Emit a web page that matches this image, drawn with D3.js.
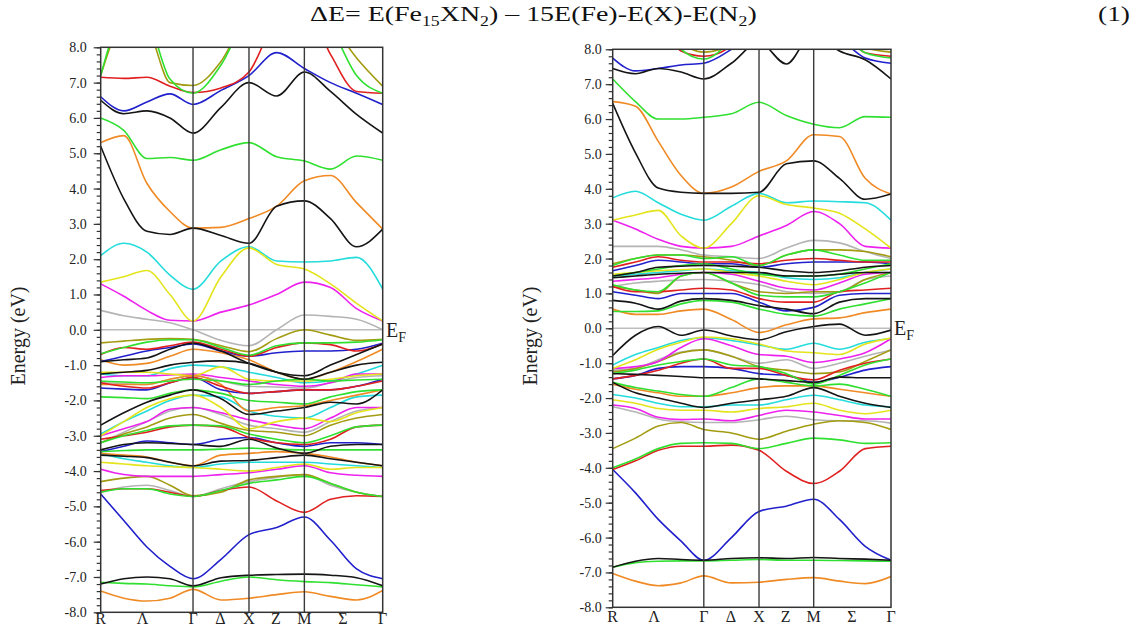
<!DOCTYPE html>
<html>
<head>
<meta charset="utf-8">
<script src="https://cdnjs.cloudflare.com/ajax/libs/d3/7.8.5/d3.min.js"></script>
<style>
body { margin: 0; background: #fff; }
svg text { font-family: "Liberation Serif", "Times New Roman", serif; }
</style>
</head>
<body>
<svg width="1143" height="628"></svg>
<script>
// k path R - Gamma - X - M - Gamma, band energies sampled on kGrid
var kGrid = [0, 0.4125, 0.825, 1.2375, 1.65, 2.15, 2.65, 3.145, 3.64, 4.107, 4.573, 5.04];
var kSym = [1.65, 2.65, 3.64];
var kLabelPos = [0, 0.75, 1.65, 2.14, 2.65, 3.13, 3.64, 4.33, 5.04];
var kLabels = ["R", "\u039B", "\u0393", "\u0394", "X", "Z", "M", "\u03A3", "\u0393"];
var energyTicks = d3.range(-8, 9, 1);
var minorTicks = d3.range(-40, 41).map(function(i){ return i / 5; });

// ---- left panel bands (by colour)
var leftBlack = [
  [5.2, 3.71, 2.79, 2.7, 2.88, 2.67, 2.45, 3.5, 3.65, 3.15, 2.35, 2.85],
  [6.5, 6.12, 6.2, 6.0, 5.57, 6.3, 7.0, 6.62, 7.3, 6.75, 6.1, 5.57],
  [-0.9, -0.85, -0.8, -0.55, -0.38, -0.6, -0.95, -1.2, -1.3, -1.0, -0.7, -0.4],
  [-1.25, -1.2, -1.15, -1.0, -0.92, -0.88, -0.95, -1.2, -1.4, -1.2, -1.0, -0.92],
  [-2.7, -2.35, -2.05, -1.85, -1.7, -1.95, -2.4, -2.3, -2.2, -2.05, -2.1, -1.7],
  [-3.4, -3.25, -3.2, -3.22, -3.25, -3.3, -3.1, -3.35, -3.5, -3.3, -3.25, -3.25],
  [-3.55, -3.58, -3.62, -3.75, -3.85, -3.72, -3.7, -3.62, -3.55, -3.65, -3.75, -3.85],
  [-7.2, -7.05, -7.0, -7.05, -7.25, -7.02, -6.95, -6.93, -6.92, -6.95, -7.02, -7.25]
];
var leftRed = [
  [7.15, 7.12, 7.15, 6.9, 6.72, 6.85, 7.3, 8.8, 9.2, 7.8, 6.75, 6.7],
  [-0.7, -0.5, -0.55, -0.45, -0.35, -0.55, -0.75, -0.5, -0.37, -0.42, -0.6, -0.4],
  [-1.5, -1.6, -1.65, -1.5, -1.35, -1.6, -1.8, -1.75, -1.7, -1.7, -1.6, -1.45],
  [-3.1, -3.0, -2.9, -2.75, -2.7, -2.75, -3.05, -3.2, -3.25, -3.1, -2.75, -2.7],
  [-4.55, -4.5, -4.5, -4.6, -4.72, -4.55, -4.45, -4.85, -5.17, -4.8, -4.7, -4.72]
];
var leftGreen = [
  [7.2, 8.8, 8.7, 7.1, 6.7, 7.5, 9.0, 9.5, 9.5, 8.6, 7.2, 6.7],
  [6.0, 5.65, 4.85, 4.88, 4.8, 5.1, 5.3, 4.9, 4.78, 4.55, 4.92, 4.8],
  [-0.68, -0.5, -0.35, -0.28, -0.28, -0.5, -0.72, -0.45, -0.37, -0.37, -0.35, -0.28],
  [-1.45, -1.48, -1.5, -1.45, -1.4, -1.45, -1.55, -1.45, -1.4, -1.45, -1.42, -1.4],
  [-1.9, -1.92, -1.95, -1.8, -1.7, -1.8, -2.0, -2.05, -2.1, -1.9, -1.75, -1.7],
  [-3.2, -3.0, -2.85, -2.72, -2.7, -2.72, -2.95, -3.1, -3.2, -3.0, -2.75, -2.7],
  [-3.45, -3.42, -3.4, -3.4, -3.4, -3.38, -3.35, -3.38, -3.4, -3.4, -3.4, -3.4],
  [-4.6, -4.5, -4.5, -4.65, -4.72, -4.55, -4.35, -4.25, -4.15, -4.35, -4.6, -4.72],
  [-7.15, -7.18, -7.2, -7.25, -7.28, -7.12, -7.0, -7.08, -7.13, -7.16, -7.22, -7.28]
];
var leftBlue = [
  [6.6, 6.2, 6.45, 6.68, 6.38, 6.78, 7.2, 7.85, 7.4, 7.0, 6.7, 6.38],
  [-0.9, -0.75, -0.6, -0.5, -0.4, -0.6, -0.75, -0.65, -0.6, -0.6, -0.55, -0.38],
  [-1.65, -1.68, -1.7, -1.5, -1.35, -1.7, -1.8, -1.75, -1.7, -1.7, -1.6, -1.4],
  [-3.45, -3.3, -3.15, -3.2, -3.25, -3.1, -3.05, -3.2, -3.3, -3.2, -3.2, -3.25],
  [-4.65, -5.4, -6.15, -6.7, -7.05, -6.5, -5.8, -5.6, -5.3, -5.96, -6.77, -7.05]
];
var leftYellow = [
  [1.35, 1.5, 1.68, 1.0, 0.25, 1.5, 2.32, 1.85, 1.72, 1.3, 0.75, 0.25],
  [-1.2, -1.2, -1.2, -1.25, -1.3, -1.05, -1.4, -1.45, -1.45, -1.4, -1.3, -1.25],
  [-3.0, -2.6, -2.2, -1.95, -1.85, -2.2, -2.8, -2.6, -2.5, -2.6, -2.35, -2.2],
  [-3.75, -3.8, -3.85, -3.88, -3.9, -3.95, -4.0, -3.9, -3.8, -3.95, -3.9, -3.9]
];
var leftOrange = [
  [5.3, 5.5, 4.15, 3.35, 2.88, 2.9, 3.15, 3.5, 4.22, 4.37, 3.6, 2.85],
  [-0.85, -1.0, -0.95, -0.75, -0.55, -0.65, -0.85, -1.2, -1.4, -1.2, -0.9, -0.55],
  [-1.55, -1.55, -1.55, -1.4, -1.3, -1.55, -2.3, -2.2, -2.15, -2.0, -1.85, -1.7],
  [-3.5, -3.55, -3.6, -3.75, -3.85, -3.55, -3.5, -3.45, -3.5, -3.6, -3.75, -3.85],
  [-7.4, -7.6, -7.68, -7.6, -7.35, -7.65, -7.6, -7.5, -7.42, -7.55, -7.65, -7.38]
];
var leftMagenta = [
  [1.3, 0.95, 0.55, 0.27, 0.25, 0.5, 0.7, 1.0, 1.35, 1.2, 0.6, 0.25],
  [-1.35, -1.3, -1.3, -1.28, -1.25, -1.35, -1.45, -1.55, -1.6, -1.5, -1.25, -1.25],
  [-3.0, -2.8, -2.6, -2.25, -2.2, -2.35, -2.55, -2.7, -2.8, -2.5, -2.2, -2.2],
  [-3.95, -4.1, -4.15, -4.15, -4.15, -4.1, -4.05, -3.95, -3.85, -4.05, -4.12, -4.15]
];
var leftCyan = [
  [2.1, 2.45, 2.2, 1.55, 1.15, 1.95, 2.35, 1.95, 1.92, 1.95, 2.05, 1.15],
  [-1.25, -1.3, -1.3, -1.1, -1.0, -1.05, -1.2, -1.35, -1.5, -1.45, -1.25, -1.0],
  [-2.95, -2.6, -2.3, -2.0, -1.85, -1.9, -2.3, -2.45, -2.5, -2.2, -1.9, -1.85],
  [-3.5, -3.65, -3.75, -3.85, -3.9, -3.8, -3.75, -3.75, -3.75, -3.8, -3.85, -3.9]
];
var leftOlive = [
  [7.2, 8.6, 8.5, 7.0, 6.92, 7.6, 9.0, 9.5, 9.5, 8.7, 7.7, 6.9],
  [-0.37, -0.32, -0.27, -0.25, -0.27, -0.45, -0.62, -0.25, 0.0, -0.15, -0.3, -0.27],
  [-3.2, -2.95, -2.75, -2.5, -2.4, -2.65, -2.85, -2.9, -3.0, -2.7, -2.5, -2.4],
  [-4.3, -4.2, -4.15, -4.4, -4.7, -4.6, -4.25, -4.15, -4.1, -4.35, -4.6, -4.72]
];
var leftGray = [
  [0.55, 0.4, 0.3, 0.2, 0.0, -0.3, -0.45, 0.0, 0.42, 0.38, 0.3, 0.0],
  [-1.5, -1.52, -1.55, -1.4, -1.3, -1.45, -1.6, -1.62, -1.65, -1.5, -1.35, -1.3],
  [-3.2, -2.9, -2.6, -2.3, -2.2, -2.4, -2.7, -2.8, -2.9, -2.6, -2.3, -2.2],
  [-4.6, -4.45, -4.4, -4.55, -4.72, -4.5, -4.3, -4.18, -4.1, -4.4, -4.6, -4.72]
];

// ---- right panel bands (by colour)
var rightBlack = [
  [6.45, 5.03, 4.02, 3.9, 3.87, 3.87, 3.9, 4.72, 4.8, 4.3, 3.7, 3.85],
  [7.45, 7.3, 7.45, 7.35, 7.15, 7.6, 8.2, 7.58, 8.5, 7.95, 7.7, 7.15],
  [1.5, 1.6, 1.75, 1.78, 1.8, 1.78, 1.75, 1.65, 1.6, 1.65, 1.75, 1.8],
  [1.45, 1.5, 1.55, 1.58, 1.6, 1.6, 1.6, 1.5, 1.5, 1.55, 1.6, 1.6],
  [0.8, 0.72, 0.55, 0.78, 0.85, 0.8, 0.65, 0.55, 0.42, 0.75, 0.85, 0.85],
  [-0.78, -0.2, 0.05, -0.2, -0.05, -0.22, -0.33, -0.1, 0.05, 0.12, -0.2, -0.05],
  [-1.3, -1.32, -1.35, -1.38, -1.42, -1.42, -1.45, -1.5, -1.55, -1.4, -1.42, -1.42],
  [-1.55, -1.85, -2.0, -2.15, -2.27, -2.15, -2.05, -1.95, -1.7, -1.95, -2.15, -2.27],
  [-6.85, -6.68, -6.6, -6.63, -6.65, -6.6, -6.58, -6.6, -6.57, -6.6, -6.62, -6.65]
];
var rightRed = [
  [9.5, 9.5, 9.0, 7.95, 7.8, 8.1, 9.5, 9.5, 9.5, 8.8, 7.9, 7.8],
  [1.75, 1.9, 2.05, 1.95, 1.9, 1.9, 1.85, 1.95, 2.0, 1.95, 1.9, 1.9],
  [1.2, 1.05, 1.05, 1.1, 1.15, 1.1, 0.85, 0.75, 0.75, 1.05, 1.1, 1.15],
  [-1.45, -1.35, -1.2, -1.0, -0.88, -1.15, -1.15, -1.35, -1.48, -1.2, -1.0, -0.88],
  [-4.05, -3.8, -3.5, -3.38, -3.38, -3.35, -3.5, -4.1, -4.45, -4.1, -3.45, -3.38]
];
var rightGreen = [
  [9.5, 9.5, 9.0, 8.0, 7.72, 8.3, 9.5, 9.5, 9.5, 8.6, 7.9, 7.75],
  [7.15, 6.5, 6.0, 6.0, 6.05, 6.15, 6.48, 6.1, 5.85, 5.75, 6.07, 6.05],
  [1.8, 2.0, 2.1, 2.1, 2.0, 2.05, 1.8, 2.1, 2.25, 2.1, 1.95, 1.95],
  [1.5, 1.6, 1.7, 1.8, 1.85, 1.7, 1.55, 1.5, 1.5, 1.55, 1.7, 1.85],
  [1.25, 1.1, 1.05, 1.5, 1.6, 1.3, 0.95, 0.9, 0.9, 1.05, 1.3, 1.6],
  [0.48, 0.48, 0.5, 0.7, 0.8, 0.75, 0.55, 0.4, 0.35, 0.55, 0.7, 0.85],
  [-1.3, -1.2, -1.05, -0.95, -0.88, -1.05, -1.1, -1.3, -1.6, -1.35, -1.05, -0.88],
  [-1.55, -1.7, -1.8, -1.9, -1.95, -1.7, -1.45, -1.55, -1.65, -1.6, -1.75, -1.95],
  [-4.0, -3.75, -3.45, -3.3, -3.28, -3.3, -3.45, -3.3, -3.15, -3.2, -3.3, -3.28],
  [-6.85, -6.72, -6.68, -6.67, -6.67, -6.65, -6.63, -6.65, -6.65, -6.66, -6.67, -6.68]
];
var rightBlue = [
  [7.75, 7.38, 7.45, 7.55, 7.6, 8.0, 8.6, 9.0, 8.6, 8.3, 7.75, 7.6],
  [1.65, 1.8, 1.95, 1.9, 1.85, 1.85, 1.75, 1.85, 1.9, 1.9, 1.9, 1.85],
  [1.05, 0.95, 0.85, 1.0, 1.0, 1.0, 0.75, 0.5, 0.6, 0.95, 1.0, 1.0],
  [-1.45, -1.35, -1.15, -1.1, -1.1, -1.15, -1.3, -1.35, -1.55, -1.4, -1.2, -1.1],
  [-4.05, -4.72, -5.48, -6.1, -6.65, -6.0, -5.25, -5.1, -4.9, -5.48, -6.25, -6.65]
];
var rightYellow = [
  [3.1, 3.25, 3.38, 2.65, 2.3, 3.0, 3.8, 3.55, 3.45, 3.3, 2.85, 2.3],
  [1.55, 1.6, 1.65, 1.68, 1.7, 1.6, 1.5, 1.35, 1.25, 1.4, 1.6, 1.7],
  [-1.15, -0.9, -0.6, -0.4, -0.25, -0.3, -0.45, -0.65, -0.7, -0.75, -0.45, -0.28],
  [-2.05, -2.15, -2.3, -2.35, -2.35, -2.4, -2.3, -2.25, -2.15, -2.35, -2.45, -2.35]
];
var rightOrange = [
  [6.5, 6.37, 5.36, 4.38, 3.87, 4.05, 4.5, 4.8, 5.55, 5.5, 4.3, 3.85],
  [0.55, 0.4, 0.4, 0.5, 0.55, 0.25, -0.12, 0.1, 0.27, 0.3, 0.45, 0.55],
  [-1.6, -1.75, -1.85, -1.95, -1.95, -1.85, -1.7, -1.65, -1.65, -1.75, -1.85, -1.95],
  [-7.03, -7.25, -7.38, -7.3, -7.1, -7.3, -7.28, -7.2, -7.15, -7.25, -7.32, -7.12]
];
var rightMagenta = [
  [3.1, 2.85, 2.55, 2.35, 2.3, 2.35, 2.65, 2.95, 3.35, 3.0, 2.35, 2.3],
  [1.35, 1.4, 1.45, 1.55, 1.6, 1.55, 1.35, 1.15, 1.1, 1.3, 1.55, 1.6],
  [-1.15, -1.1, -0.95, -0.55, -0.3, -0.5, -0.75, -0.8, -0.98, -0.88, -0.7, -0.3],
  [-2.2, -2.3, -2.55, -2.62, -2.6, -2.65, -2.5, -2.35, -2.4, -2.5, -2.6, -2.6]
];
var rightCyan = [
  [3.74, 3.93, 3.6, 3.27, 3.1, 3.5, 3.87, 3.6, 3.65, 3.63, 3.6, 3.1],
  [1.5, 1.55, 1.6, 1.65, 1.7, 1.65, 1.6, 1.45, 1.4, 1.45, 1.6, 1.7],
  [-1.05, -0.75, -0.55, -0.35, -0.27, -0.35, -0.48, -0.6, -0.43, -0.6, -0.4, -0.3],
  [-1.9, -2.0, -2.15, -2.25, -2.25, -2.2, -2.2, -2.05, -1.92, -2.05, -2.2, -2.25]
];
var rightOlive = [
  [9.5, 9.5, 9.0, 8.2, 7.92, 8.15, 9.5, 9.5, 9.5, 8.8, 8.05, 7.92],
  [1.85, 2.0, 2.1, 2.1, 2.05, 1.95, 1.8, 2.1, 2.25, 2.25, 2.2, 2.05],
  [1.2, 1.1, 1.0, 1.5, 1.6, 1.3, 1.05, 1.0, 1.05, 1.05, 1.4, 1.6],
  [-1.25, -1.15, -0.95, -0.7, -0.62, -0.8, -1.1, -1.2, -1.3, -1.25, -0.95, -0.62],
  [-3.45, -3.15, -2.8, -2.7, -2.9, -3.0, -3.18, -2.95, -2.75, -2.65, -2.7, -2.9]
];
var rightGray = [
  [2.35, 2.35, 2.35, 2.25, 2.1, 2.05, 2.0, 2.3, 2.52, 2.45, 2.2, 2.0],
  [1.2, 1.3, 1.35, 1.38, 1.4, 1.35, 1.25, 1.05, 1.0, 1.05, 1.4, 1.5],
  [-1.2, -1.15, -0.9, -0.68, -0.62, -0.8, -1.0, -0.9, -1.15, -1.0, -0.8, -0.62],
  [-2.25, -2.4, -2.6, -2.68, -2.7, -2.7, -2.62, -2.52, -2.62, -2.65, -2.65, -2.72]
];

var palette = {
  gray: "#b4b4b4", olive: "#a39c12", cyan: "#25dcdc", magenta: "#ee22ee",
  yellow: "#e4e41c", orange: "#f08a24", blue: "#2020cc", red: "#e02020",
  green: "#30e030", black: "#151515"
};
var serif = "'Liberation Serif', 'Times New Roman', serif";

var panels = [
  { x0: 100.7, x1: 382.7, top: 47.3, bottom: 612.3, pad: 7, labelY: 624, titleX: 19, efX: 386,
    bands: [["gray", leftGray], ["olive", leftOlive], ["cyan", leftCyan], ["magenta", leftMagenta],
            ["yellow", leftYellow], ["orange", leftOrange], ["blue", leftBlue], ["red", leftRed],
            ["green", leftGreen], ["black", leftBlack]] },
  { x0: 612.7, x1: 891, top: 49.3, bottom: 607.3, pad: 4, labelY: 622, titleX: 531, efX: 894,
    bands: [["gray", rightGray], ["olive", rightOlive], ["cyan", rightCyan], ["magenta", rightMagenta],
            ["yellow", rightYellow], ["orange", rightOrange], ["blue", rightBlue], ["red", rightRed],
            ["green", rightGreen], ["black", rightBlack]] }
];

var svg = d3.select("svg");

var drawPanel = function(p, idx)
{
  var xScale = d3.scaleLinear().domain([0, 5.04]).range([p.x0, p.x1]);
  var yScale = d3.scaleLinear().domain([-8, 8]).range([p.bottom, p.top]);

  svg.append("clipPath").attr("id", "clip" + idx)
    .append("rect")
    .attr("x", p.x0).attr("y", p.top)
    .attr("width", p.x1 - p.x0).attr("height", p.bottom - p.top);

  var g = svg.append("g").attr("clip-path", "url(#clip" + idx + ")");

  // Fermi level
  g.append("line")
    .attr("x1", p.x0).attr("x2", p.x1)
    .attr("y1", yScale(0)).attr("y2", yScale(0))
    .attr("stroke", "#bdbdbd").attr("stroke-width", 1.6);

  var lineGenerator = d3.line()
    .x(function(d, i){ return xScale(kGrid[i]); })
    .y(function(d){ return yScale(d); })
    .curve(d3.curveMonotoneX);

  p.bands.forEach(function(set)
  {
    g.selectAll(null)
      .data(set[1])
      .enter()
      .append("path")
      .attr("d", lineGenerator)
      .attr("fill", "none")
      .attr("stroke", palette[set[0]])
      .attr("stroke-width", 1.6);
  });

  // high symmetry lines
  svg.selectAll(null)
    .data(kSym)
    .enter()
    .append("line")
    .attr("x1", function(d){ return xScale(d); })
    .attr("x2", function(d){ return xScale(d); })
    .attr("y1", p.top).attr("y2", p.bottom)
    .attr("stroke", "#3a3a3a").attr("stroke-width", 1.4);

  svg.append("rect")
    .attr("x", p.x0).attr("y", p.top)
    .attr("width", p.x1 - p.x0).attr("height", p.bottom - p.top)
    .attr("fill", "none").attr("stroke", "#333").attr("stroke-width", 1.5);

  var minorAxis = d3.axisLeft(yScale).tickValues(minorTicks).tickSize(4).tickSizeOuter(0).tickFormat("");
  var majorAxis = d3.axisLeft(yScale).tickValues(energyTicks).tickSize(7).tickSizeOuter(0)
    .tickPadding(p.pad)
    .tickFormat(function(d){ return d.toFixed(1); });

  var ax1 = svg.append("g").attr("transform", "translate(" + p.x0 + ",0)").call(minorAxis);
  var ax2 = svg.append("g").attr("transform", "translate(" + p.x0 + ",0)").call(majorAxis)
    .attr("font-family", serif).attr("font-size", 14);
  [ax1, ax2].forEach(function(a)
  {
    a.select(".domain").remove();
    a.selectAll("line").attr("stroke", "#333").attr("stroke-width", 1.2);
  });
  ax2.selectAll("text").attr("fill", "#222");

  // k labels
  svg.selectAll(null)
    .data(kLabels)
    .enter()
    .append("text")
    .attr("x", function(d, i){ return xScale(kLabelPos[i]); })
    .attr("y", p.labelY)
    .attr("text-anchor", "middle")
    .attr("font-family", serif)
    .attr("font-size", 16)
    .attr("fill", "#222")
    .text(function(d){ return d; });

  svg.append("text")
    .attr("transform", "translate(" + (p.titleX + 6) + "," + 336 + ") rotate(-90)")
    .attr("text-anchor", "middle")
    .attr("font-family", serif)
    .attr("font-size", 20)
    .attr("fill", "#222")
    .text("Energy (eV)");

  var ef = svg.append("text")
    .attr("x", p.efX).attr("y", yScale(0) + 7)
    .attr("font-family", serif)
    .attr("font-size", 20)
    .attr("fill", "#222")
    .text("E");
  ef.append("tspan").attr("dy", 5).attr("font-size", 14).text("F");
};

panels.forEach(drawPanel);

// equation line above the figure
var eq = svg.append("text").attr("font-family", serif).attr("font-size", 22).attr("fill", "#111");
var eqParts = [["\u0394E= E(Fe", 0], ["15", 1], ["XN", 0], ["2", 1], [") \u2013 15E(Fe)-E(X)-E(N", 0], ["2", 1], [")", 0]];
eqParts.forEach(function(part, i)
{
  var t = eq.append("tspan").text(part[0]);
  if (part[1]) { t.attr("font-size", 14).attr("dy", 5); }
  else if (i > 0 && eqParts[i - 1][1]) { t.attr("dy", -5); }
});
var eqW = eq.node().getComputedTextLength();
eq.attr("transform", "translate(310,21) scale(" + (447 / eqW) + ",1)");

var num = svg.append("text").attr("font-family", serif).attr("font-size", 22).attr("fill", "#111").text("(1)");
var numW = num.node().getComputedTextLength();
num.attr("transform", "translate(1098,21) scale(" + (32 / numW) + ",1)");
</script>
</body>
</html>
